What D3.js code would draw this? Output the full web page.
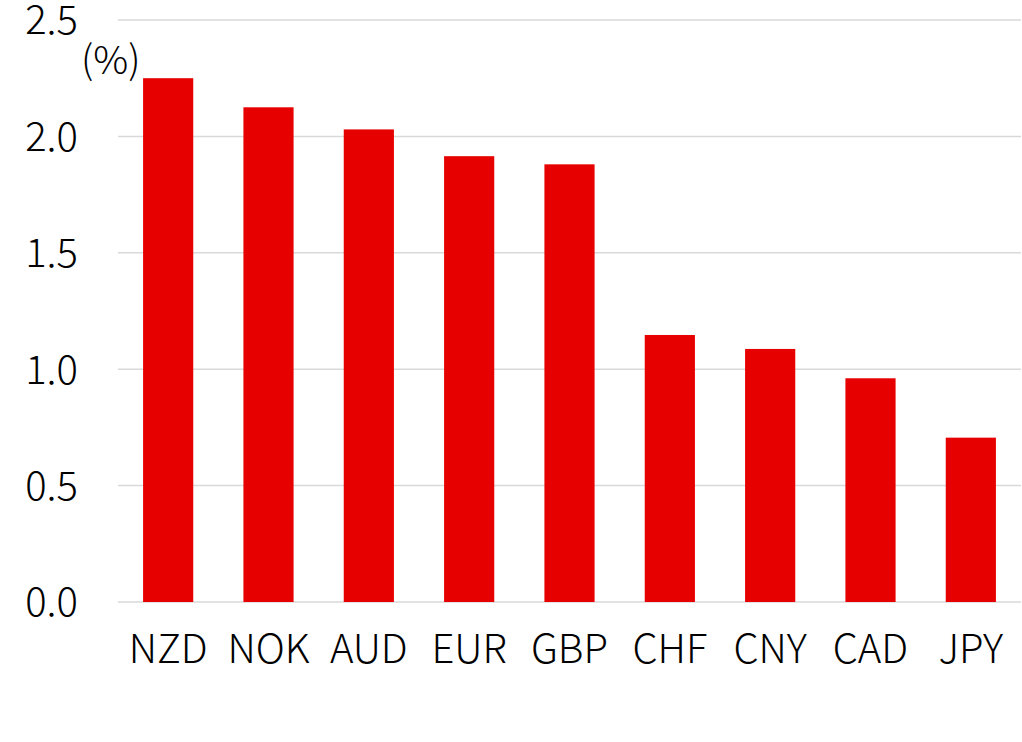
<!DOCTYPE html>
<html>
<head>
<meta charset="utf-8">
<script src="https://cdn.jsdelivr.net/npm/d3@7"></script>
<style>
  html, body { margin: 0; padding: 0; background: #fff; }
  svg { display: block; }
  text { font-family: "Noto Sans CJK JP", "Noto Sans", sans-serif; font-weight: 300; fill: #000; }
</style>
</head>
<body>
<svg id="chart" width="1022" height="742"></svg>
<script>
const categories = ["NZD", "NOK", "AUD", "EUR", "GBP", "CHF", "CNY", "CAD", "JPY"];
const values = [2.25, 2.125, 2.03, 1.915, 1.88, 1.147, 1.087, 0.961, 0.706];
const yTicks = [0, 0.5, 1.0, 1.5, 2.0, 2.5];
const unitLabel = "(%)";

const svg = d3.select("#chart");
const margin = { left: 118, right: 1, top: 20, bottom: 140 };
const W = 1022, H = 742;

const x = d3.scaleBand().domain(categories).range([margin.left, W - margin.right]).paddingInner(0.5).paddingOuter(0.25);
const y = d3.scaleLinear().domain([0, 2.5]).range([H - margin.bottom, margin.top]);

// gridlines
svg.append("g").selectAll("line").data(yTicks).join("line")
  .attr("x1", margin.left).attr("x2", W - margin.right)
  .attr("y1", d => y(d)).attr("y2", d => y(d))
  .attr("stroke", "#d9d9d9").attr("stroke-width", 1.5);

// bars
svg.append("g").selectAll("rect").data(values).join("rect")
  .attr("x", (d, i) => x(categories[i]))
  .attr("width", x.bandwidth())
  .attr("y", d => y(d))
  .attr("height", d => y(0) - y(d))
  .attr("fill", "#e60000");

// y tick labels
svg.append("g").selectAll("text").data(yTicks).join("text")
  .attr("x", 78).attr("y", d => y(d))
  .attr("dy", "0.36em")
  .attr("text-anchor", "end")
  .attr("font-size", 40)
  .text(d => d.toFixed(1));

// x labels
svg.append("g").selectAll("text").data(categories).join("text")
  .attr("x", d => x(d) + x.bandwidth() / 2)
  .attr("y", 663)
  .attr("text-anchor", "middle")
  .attr("font-size", 40)
  .text(d => d);

// unit label
svg.append("text")
  .attr("x", 81).attr("y", 74)
  .attr("font-size", 39)
  .text(unitLabel);
</script>
</body>
</html>
